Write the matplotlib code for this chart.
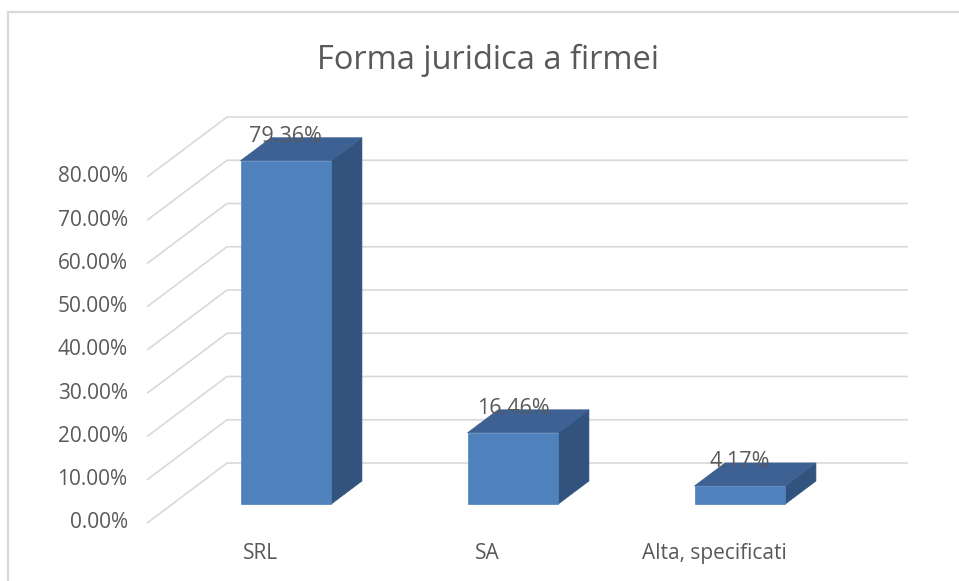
import matplotlib
matplotlib.use("Agg")
import matplotlib.pyplot as plt
from matplotlib.patches import Polygon
from matplotlib.lines import Line2D

plt.rcParams['font.family'] = ['Open Sans', 'DejaVu Sans']

categories = ['SRL', 'SA', 'Alta, specificati']
values = [79.36, 16.46, 4.17]
y_ticks = [0, 10, 20, 30, 40, 50, 60, 70, 80]
title = 'Forma juridica a firmei'

TXT = '#595959'
GRID = '#d9d9d9'
FRONT = '#4f81bd'
TOP = '#3c6192'
SIDE = '#32537d'

# oblique depth: d=0 back wall, d=1 front edge of floor
DX = 0.352   # slot units
DY = 13.87   # percent units
D_FRONT = 0.683
D_BACK = 0.30
BAR_W = 0.40


def proj(x, v, d):
    return (x - d * DX, v - d * DY)


fig = plt.figure(figsize=(9.59, 5.81), dpi=100)
ax = fig.add_axes([0, 0, 1, 1])
ax.set_xlim(-1.0, 3.2247)
ax.set_ylim(-27.28, 107.05)
ax.axis('off')

# gridlines: side wall diagonal + back wall
for t in y_ticks:
    p0 = proj(0, t, 1)
    p1 = proj(0, t, 0)
    p2 = proj(len(categories), t, 0)
    ax.plot([p0[0], p1[0], p2[0]], [p0[1], p1[1], p2[1]],
            color=GRID, lw=1.2, solid_capstyle='butt', zorder=1)
    ax.annotate(f'{t:.2f}%', xy=p0, xytext=(-14, 0), textcoords='offset points',
                ha='right', va='center', fontsize=15, color=TXT)

# bars
for i, v in enumerate(values):
    c = i + 0.5
    l, r = c - BAR_W / 2, c + BAR_W / 2
    side = [proj(r, 0, D_FRONT), proj(r, v, D_FRONT), proj(r, v, D_BACK), proj(r, 0, D_BACK)]
    top = [proj(l, v, D_FRONT), proj(r, v, D_FRONT), proj(r, v, D_BACK), proj(l, v, D_BACK)]
    front = [proj(l, 0, D_FRONT), proj(r, 0, D_FRONT), proj(r, v, D_FRONT), proj(l, v, D_FRONT)]
    for pts, col in [(side, SIDE), (top, TOP), (front, FRONT)]:
        ax.add_patch(Polygon(pts, closed=True, facecolor=col, edgecolor=col,
                             lw=0.5, zorder=3))
    lx = c - D_FRONT * DX
    ly = v - D_BACK * DY
    ax.annotate(f'{v:.2f}%', xy=(lx, ly), xytext=(0, 1), textcoords='offset points',
                ha='center', va='center', fontsize=15.5, color=TXT, zorder=5)
    cx, cy = proj(c, 0, 1)
    ax.annotate(categories[i], xy=(cx, cy), xytext=(0, -22), textcoords='offset points',
                ha='center', va='center', fontsize=15, color=TXT)

fig.text(488 / 959, 1 - 60 / 581, title, ha='center', va='center',
         fontsize=23.5, color=TXT)

# chart area border (left and top visible)
fig.add_artist(Line2D([8 / 959, 8 / 959], [0, 1 - 12 / 581], transform=fig.transFigure,
                      color=GRID, lw=1.6))
fig.add_artist(Line2D([8 / 959, 1], [1 - 12 / 581, 1 - 12 / 581], transform=fig.transFigure,
                      color=GRID, lw=1.6))

fig.savefig('out.png', dpi=100)
